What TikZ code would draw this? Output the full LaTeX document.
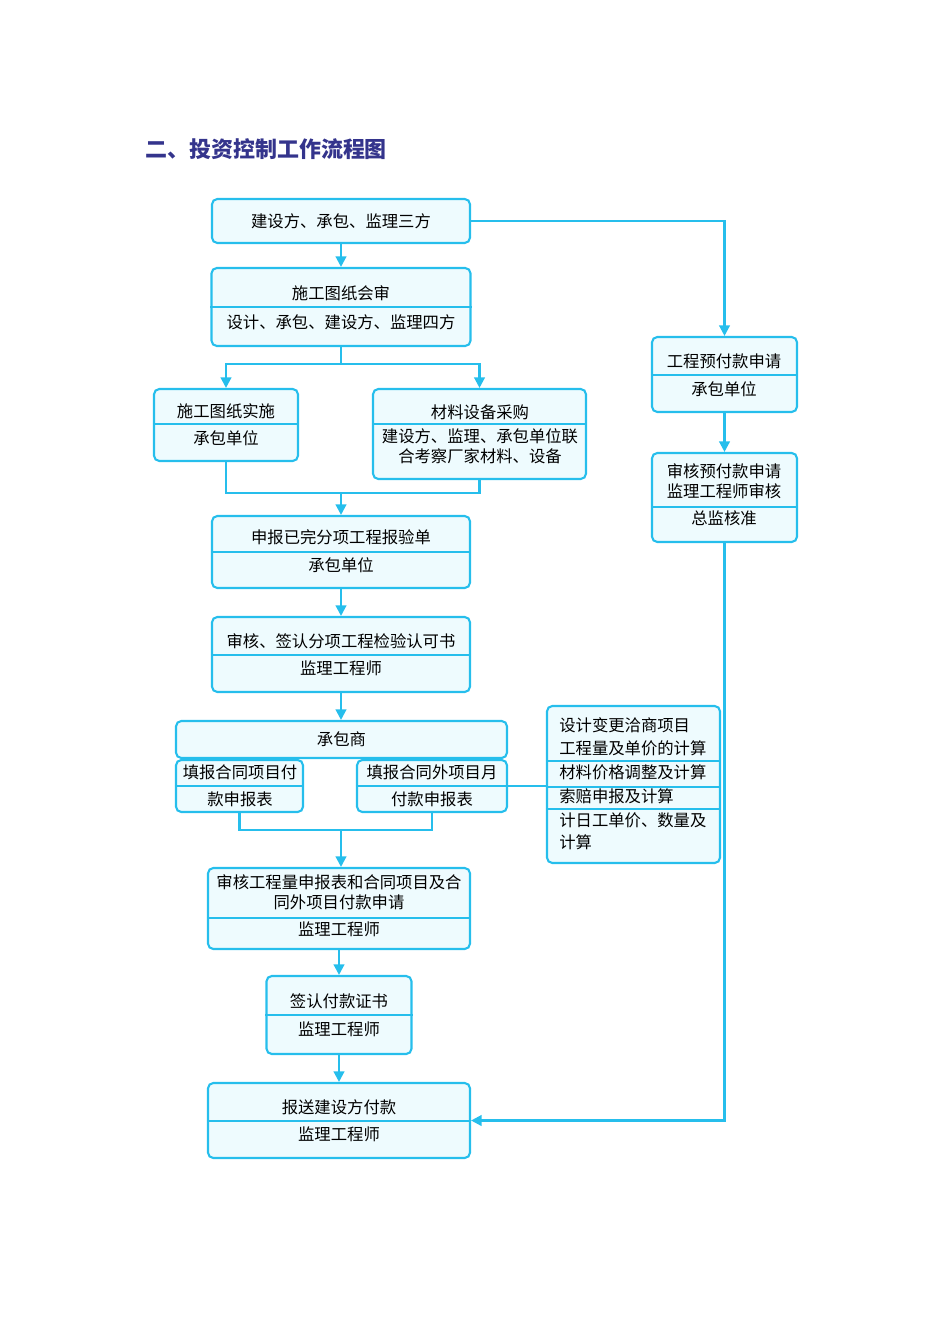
\documentclass[tikz,border=0pt]{standalone}
\usepackage{fontspec}
\setmainfont{Noto Sans CJK SC}
\usetikzlibrary{arrows.meta}
\definecolor{linecyan}{RGB}{38,190,236}
\definecolor{boxfill}{RGB}{238,251,254}
\definecolor{titleblue}{RGB}{52,52,140}

\begin{document}
\begin{tikzpicture}[x=0.02cm,y=-0.02cm,
        box/.style={draw=linecyan,fill=boxfill,line width=1.2pt,rounded corners=3pt,inner sep=0pt},
        divline/.style={draw=linecyan,line width=1.1pt},
        txt/.style={font=\fontsize{9.3}{11.5}\selectfont,align=center,inner sep=0pt},
        link/.style={draw=linecyan,line width=1.3pt},
        arr/.style={link,-{Triangle[length=6pt,width=6pt]}}]
        \useasboundingbox (0,0) rectangle (950,1344);
        \node[anchor=west,inner sep=0pt,text=titleblue,font=\fontsize{12.5}{14}\selectfont\bfseries] (title) at (145,149) {二、投资控制工作流程图};

        \node[box,txt,minimum width=5.16cm,minimum height=0.88cm] (a) at (341,221) {建设方、承包、监理三方};
        \node[box,minimum width=5.18cm,minimum height=1.56cm] (b) at (341,307) {};
        \node[box,minimum width=2.88cm,minimum height=1.44cm] (c) at (226,425) {};
        \node[box,minimum width=4.26cm,minimum height=1.8cm] (d) at (479.5,434) {};
        \node[box,minimum width=2.9cm,minimum height=1.5cm] (e) at (724.5,374.5) {};
        \node[box,minimum width=2.9cm,minimum height=1.78cm] (f) at (724.5,497.5) {};
        \node[box,minimum width=5.16cm,minimum height=1.44cm] (g) at (341,552) {};
        \node[box,minimum width=5.16cm,minimum height=1.5cm] (h) at (341,654.5) {};
        \node[box,txt,minimum width=6.62cm,minimum height=0.74cm] (i) at (341.5,739.5) {承包商};
        \node[box,minimum width=2.54cm,minimum height=1.04cm] (j) at (239.5,786) {};
        \node[box,minimum width=3.0cm,minimum height=1.04cm] (k) at (432,786) {};
        \node[box,minimum width=3.46cm,minimum height=3.14cm] (l) at (633.5,784.5) {};
        \node[box,minimum width=5.24cm,minimum height=1.62cm] (m) at (339,908.5) {};
        \node[box,minimum width=2.9cm,minimum height=1.56cm] (n) at (339,1015) {};
        \node[box,minimum width=5.24cm,minimum height=1.5cm] (o) at (339,1120.5) {};

        \draw[divline] (b.west |- 0,307) -- (b.east |- 0,307);
        \draw[divline] (c.west |- 0,424) -- (c.east |- 0,424);
        \draw[divline] (d.west |- 0,424) -- (d.east |- 0,424);
        \draw[divline] (e.west |- 0,375) -- (e.east |- 0,375);
        \draw[divline] (f.west |- 0,507) -- (f.east |- 0,507);
        \draw[divline] (g.west |- 0,552) -- (g.east |- 0,552);
        \draw[divline] (h.west |- 0,655) -- (h.east |- 0,655);
        \draw[divline] (j.west |- 0,786) -- (j.east |- 0,786);
        \draw[divline] (k.west |- 0,786) -- (k.east |- 0,786);
        \draw[divline] (l.west |- 0,761) -- (l.east |- 0,761);
        \draw[divline] (l.west |- 0,787) -- (l.east |- 0,787);
        \draw[divline] (l.west |- 0,809) -- (l.east |- 0,809);
        \draw[divline] (m.west |- 0,918) -- (m.east |- 0,918);
        \draw[divline] (n.west |- 0,1015) -- (n.east |- 0,1015);
        \draw[divline] (o.west |- 0,1121) -- (o.east |- 0,1121);

        \node[txt] (b1) at (341,293) {施工图纸会审};
        \node[txt] (b2) at (341,322) {设计、承包、建设方、监理四方};
        \node[txt] (c1) at (226,411) {施工图纸实施};
        \node[txt] (c2) at (226,438) {承包单位};
        \node[txt] (d1) at (480,412) {材料设备采购};
        \node[txt] (d2) at (480,446) {建设方、监理、承包单位联\\合考察厂家材料、设备};
        \node[txt] (e1) at (724,361) {工程预付款申请};
        \node[txt] (e2) at (724,389) {承包单位};
        \node[txt] (f1) at (724,481) {审核预付款申请\\监理工程师审核};
        \node[txt] (f2) at (724,518) {总监核准};
        \node[txt] (g1) at (341,537) {申报已完分项工程报验单};
        \node[txt] (g2) at (341,565) {承包单位};
        \node[txt] (h1) at (341,641) {审核、签认分项工程检验认可书};
        \node[txt] (h2) at (341,668) {监理工程师};
        \node[txt] (j1) at (240,772) {填报合同项目付};
        \node[txt] (j2) at (240,799) {款申报表};
        \node[txt] (k1) at (432,772) {填报合同外项目月};
        \node[txt] (k2) at (432,799) {付款申报表};
        \node[txt,anchor=west] (l1) at (559,725) {设计变更洽商项目};
        \node[txt,anchor=west] (l2) at (559,748) {工程量及单价的计算};
        \node[txt,anchor=west] (l3) at (559,772) {材料价格调整及计算};
        \node[txt,anchor=west] (l4) at (559,796) {索赔申报及计算};
        \node[txt,anchor=west] (l5) at (559,820) {计日工单价、数量及};
        \node[txt,anchor=west] (l6) at (559,842) {计算};
        \node[txt] (m1) at (339,892) {审核工程量申报表和合同项目及合\\同外项目付款申请};
        \node[txt] (m2) at (339,929) {监理工程师};
        \node[txt] (n1) at (339,1001) {签认付款证书};
        \node[txt] (n2) at (339,1029) {监理工程师};
        \node[txt] (o1) at (339,1107) {报送建设方付款};
        \node[txt] (o2) at (339,1134) {监理工程师};

        \coordinate (s1) at (341,364);
        \coordinate (s2) at (341,493);
        \coordinate (s3) at (341,830);
        \draw[arr] (a) -- (b);
        \draw[arr] (a.east) -| (e.north);
        \draw[link] (b.south) -- (s1);
        \draw[arr] (s1) -| (c.north);
        \draw[arr] (s1) -| (d.north);
        \draw[link] (c.south) |- (s2);
        \draw[link] (d.south) |- (s2);
        \draw[arr] (s2) -- (g.north);
        \draw[arr] (g) -- (h);
        \draw[arr] (h) -- (h |- i.north);
        \draw[link] (j.south) |- (s3);
        \draw[link] (k.south) |- (s3);
        \draw[arr] (s3) -- (s3 |- m.north);
        \draw[link] (k.east) -- (k.east -| l.west);
        \draw[arr] (m) -- (n);
        \draw[arr] (n) -- (o);
        \draw[arr] (e) -- (f);
        \draw[arr] (f.south) |- (o.east);
        \end{tikzpicture}
\end{document}
